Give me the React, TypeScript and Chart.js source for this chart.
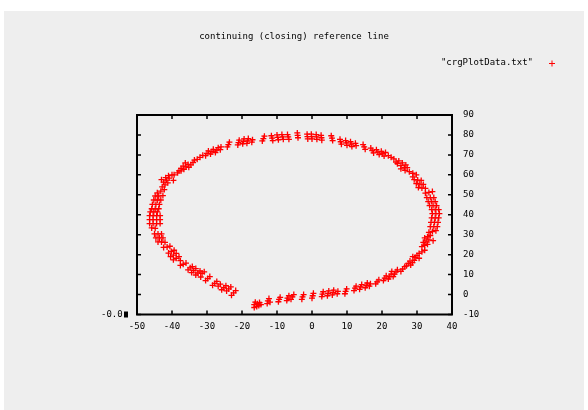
import { useEffect, useRef } from 'react';
import { Chart, registerables } from 'chart.js';

Chart.register(...registerables);

const titleText = 'continuing (closing) reference line';
const legendLabel = '"crgPlotData.txt"';
const cornerLabel = '-0.0';
const xMin = -50;
const xMax = 40;
const yMin = -10;
const yMax = 90;
const tickStep = 10;

const bottomArc: [number, number][] = [
  [-16.5, -6.5], [-16.5, -5], [-16.2, -3.8], [-15.8, -6], [-15.6, -4.6], [-15.2, -5.5], [-15, -4], [-14.6, -5],
  [-12.8, -4.5], [-12.6, -3.2], [-12.3, -2], [-12, -3.8],
  [-9.6, -3.6], [-9.4, -2.4], [-9.1, -1.4],
  [-7.2, -3], [-7, -1.8], [-6.6, -0.6], [-6, -2.4], [-5.6, -1.2], [-5.2, 0],
  [-2.9, -2.4], [-2.7, -1.2], [-2.4, 0],
  [0, -1.8], [0.2, -0.6], [0.4, 0.6],
  [2.8, -1], [3, 0.2], [3.2, 1.4], [4.4, -0.6], [4.6, 0.6], [4.8, 1.8], [5.8, -0.2], [6, 1], [6.2, 2.2], [7.2, 0.4], [7.4, 1.6],
  [9.4, 0.4], [9.6, 1.6], [9.9, 2.8],
  [12, 2], [12.3, 3.2], [12.6, 4.2], [13.6, 2.6], [13.9, 3.8], [14.2, 5], [15.2, 3.4], [15.5, 4.6], [15.8, 5.8], [16.4, 4.2], [16.7, 5.4],
  [18.2, 5.4], [18.6, 6.4], [19.1, 7.4],
  [20.4, 7], [20.8, 8.2], [21.2, 9.4], [21.8, 7.8], [22.2, 9], [22.6, 10.2], [23.2, 9], [23.6, 10.2], [24, 11.4], [22.8, 11.6], [24.4, 12.4],
  [25.4, 11.6], [25.9, 12.8], [26.5, 14],
];

const rightArc: [number, number][] = [
  [27, 14.4], [27.5, 15.6], [28, 16.8], [28.2, 14.8], [28.7, 16], [29.2, 17.2], [29.5, 18.6], [30, 19.6], [30.6, 18.2], [28.8, 19],
  [30.6, 20.6], [31.4, 21.4], [32.2, 22.2],
  [31.4, 24], [32.2, 24.6], [33, 25.2], [31.8, 26.2], [32.6, 26.8], [33.4, 27.4], [32.2, 28.4], [33, 29], [33.8, 29.6], [34.6, 27],
  [33.4, 31.2], [34.4, 31.6], [35.4, 32],
  [33.8, 34], [34.8, 34], [35.8, 34], [34, 36.2], [35, 36.2], [36, 36.2], [34.2, 38.4], [35.2, 38.4], [36.2, 38.4],
  [34.4, 40.6], [35.4, 40.6], [36.4, 40.6], [34.2, 42.6], [35.2, 42.6], [36.2, 42.6],
  [33.6, 44.6], [34.6, 44.6], [35.6, 44.6], [33.2, 46.6], [34.2, 46.6], [35.2, 46.6], [32.8, 48.6], [33.8, 48.6], [34.8, 48.6],
  [32.4, 50.8], [33.4, 51.2], [34.4, 51.6],
  [30.4, 53.6], [31.4, 53.4], [32.4, 53.2], [29.8, 55.6], [30.8, 55.4], [31.8, 55.2], [29.2, 57.6], [30.2, 57.4], [31.2, 57.2], [28.8, 59],
  [27.8, 61.6], [28.8, 60.8], [29.8, 60],
  [24.4, 65.6], [25.4, 64.6], [26.4, 63.6], [24.8, 67], [25.8, 66], [26.8, 65], [25.4, 63], [26.6, 62.2], [24, 66.4], [27.2, 63.6],
  [21.8, 69.6], [22.6, 68.8], [23.4, 68],
];

const topArc: [number, number][] = [
  [16.8, 73.4], [17.2, 72.2], [17.6, 71], [18.4, 72.6], [18.8, 71.4], [19.2, 70.2], [19.8, 71.8], [20.2, 70.6], [20.6, 69.4], [21, 71.2],
  [14.6, 75.2], [14.9, 74], [15.2, 72.8],
  [8, 77.8], [8.2, 76.6], [8.4, 75.4], [9.6, 77.2], [9.8, 76], [10, 74.8], [11, 76.6], [11.2, 75.4], [11.4, 74.2], [12.4, 75.8], [12.6, 74.6],
  [5.5, 79.6], [5.7, 78.4], [5.9, 77.2],
  [-1.4, 80.4], [-1.3, 79.2], [-1.2, 78], [-0.2, 80.4], [-0.1, 79.2], [0, 78], [1.2, 80.2], [1.3, 79], [1.4, 77.8], [2.6, 79.8], [2.7, 78.6], [2.8, 77.4],
  [-4.2, 81], [-4.1, 79.8], [-4, 78.6],
  [-11.6, 79.6], [-11.4, 78.4], [-11.2, 77.2], [-10, 80], [-9.8, 78.8], [-9.6, 77.6], [-8.6, 80.2], [-8.4, 79], [-8.2, 77.8], [-7, 80.2], [-6.8, 79], [-6.6, 77.8],
  [-14.2, 77], [-13.9, 78.2], [-13.6, 79.4],
  [-21.2, 75], [-21, 76.2], [-20.8, 77.4], [-19.8, 75.6], [-19.6, 76.8], [-19.4, 78], [-18.6, 75.8], [-18.4, 77], [-18.2, 78.2], [-17.2, 76.4], [-17, 77.6],
  [-24.2, 74], [-23.9, 75.2], [-23.6, 76.4],
];

const leftArc: [number, number][] = [
  [-30.4, 69.6], [-30, 70.8], [-29.6, 72], [-29, 70.4], [-28.6, 71.6], [-28.2, 72.8], [-27.6, 71.2], [-27.2, 72.4], [-26.8, 73.6], [-26.2, 72.6], [-26, 74],
  [-32.8, 67.8], [-32, 68.8], [-31.2, 69.8],
  [-38, 62], [-37.4, 63.2], [-36.8, 64.4], [-36.6, 62.8], [-36, 64], [-35.4, 65.2], [-35.2, 63.8], [-34.6, 65], [-34, 66.2], [-33.6, 67.4], [-36.2, 66],
  [-39.4, 60], [-38.4, 61], [-37.4, 62],
  [-42.8, 54], [-42, 55], [-41.2, 56], [-42.4, 56.4], [-41.6, 57.4], [-40.8, 58.4], [-41.8, 58.6], [-41, 59.6], [-40, 60], [-39.6, 57.2], [-43, 57.6],
  [-44.2, 51], [-43.2, 51.8], [-42.2, 52.6],
  [-45.8, 43], [-44.8, 43], [-43.8, 43], [-45.6, 45.2], [-44.6, 45.2], [-43.6, 45.2], [-45.2, 47.4], [-44.2, 47.4], [-43.2, 47.4], [-44.8, 49.4], [-43.8, 49.4], [-42.6, 49.6],
  [-46.4, 35.6], [-45.4, 35.6], [-44.4, 35.6], [-43.4, 35.6], [-46.4, 37.6], [-45.4, 37.6], [-44.4, 37.6], [-43.4, 37.6],
  [-46.4, 39.6], [-45.4, 39.6], [-44.4, 39.6], [-43.4, 39.6], [-46.2, 41.4], [-45.2, 41.4], [-44.2, 41.4],
  [-45.8, 33.4], [-44.8, 33.2],
  [-45, 30.4], [-44, 30.4], [-43, 30.4], [-44.6, 28.4], [-43.6, 28.4], [-42.6, 28.4], [-44, 26.4], [-43, 26.4], [-42, 26.2],
  [-42.4, 23.6], [-41.4, 23.8], [-40.6, 24.2],
  [-41, 20.8], [-40.2, 21.6], [-39.4, 22.2], [-40.4, 19], [-39.6, 19.8], [-38.8, 20.6], [-39.6, 17.4], [-38.8, 18.2], [-38, 19], [-37.6, 17],
  [-37.6, 14.6], [-36.8, 15.2], [-36, 15.8],
  [-35.4, 12.4], [-34.8, 13.4], [-34.2, 14], [-34.4, 11], [-33.8, 12], [-33.2, 13], [-33.2, 9.8], [-32.6, 10.8], [-32, 11.8], [-31.4, 10.6], [-30.8, 11.4], [-31.8, 8.8],
  [-30.4, 7], [-29.8, 8], [-29.2, 9],
  [-28.4, 4.6], [-27.8, 5.6], [-27.2, 6.6], [-26.8, 4.2], [-26.2, 5.2],
  [-25.8, 2.4], [-25.2, 3.4], [-24.6, 4.4], [-24.4, 1.8], [-23.8, 2.8], [-23.2, 3.8],
  [-23, -0.4], [-22.4, 0.8], [-21.8, 2],
];

const FONT_FAMILY = '"DejaVu Sans Mono", "Liberation Mono", monospace';
const W = 588;
const H = 410;

export default function App() {
  const ref = useRef<HTMLCanvasElement>(null);

  useEffect(() => {
    const canvas = ref.current;
    if (!canvas) return;
    const points = [...bottomArc, ...rightArc, ...topArc, ...leftArc].map(([x, y]) => ({ x, y }));

    const framePlugin = {
      id: 'gnuFrame',
      beforeDraw(chart: any) {
        const ctx = chart.ctx;
        ctx.save();
        ctx.fillStyle = '#ffffff';
        ctx.fillRect(0, 0, W, H);
        ctx.fillStyle = '#eeeeee';
        ctx.fillRect(4, 11, 580, 399);
        ctx.restore();
      },
      afterDraw(chart: any) {
        const { ctx, chartArea: a, scales } = chart;
        ctx.save();
        ctx.strokeStyle = '#000';
        ctx.lineWidth = 1.5;
        const tl = 4;
        for (let v = xMin; v <= xMax; v += tickStep) {
          const px = scales.x.getPixelForValue(v);
          ctx.beginPath();
          ctx.moveTo(px, a.bottom);
          ctx.lineTo(px, a.bottom - tl);
          ctx.moveTo(px, a.top);
          ctx.lineTo(px, a.top + tl);
          ctx.stroke();
        }
        for (let v = yMin; v <= yMax; v += tickStep) {
          const py = scales.y.getPixelForValue(v);
          ctx.beginPath();
          ctx.moveTo(a.left, py);
          ctx.lineTo(a.left + tl, py);
          ctx.moveTo(a.right, py);
          ctx.lineTo(a.right - tl, py);
          ctx.stroke();
        }
        ctx.lineWidth = 2;
        ctx.strokeRect(a.left, a.top, a.right - a.left, a.bottom - a.top);

        ctx.fillStyle = '#000';
        ctx.font = `9px ${FONT_FAMILY}`;
        ctx.textBaseline = 'middle';
        ctx.textAlign = 'center';
        ctx.fillText(titleText, 294, 37);
        ctx.textAlign = 'right';
        ctx.fillText(legendLabel, 533, 63);
        ctx.textAlign = 'left';
        ctx.fillText(cornerLabel, 101, a.bottom);
        ctx.fillRect(124, a.bottom - 3, 4, 6);

        ctx.strokeStyle = '#ff0000';
        ctx.lineWidth = 1;
        ctx.beginPath();
        ctx.moveTo(549, 63.5);
        ctx.lineTo(555, 63.5);
        ctx.moveTo(552, 60.5);
        ctx.lineTo(552, 66.5);
        ctx.stroke();
        ctx.restore();
      },
    };

    const tickFont = { family: FONT_FAMILY, size: 9 };

    const chart = new Chart(canvas, {
      type: 'scatter',
      data: {
        datasets: [
          {
            label: legendLabel,
            data: points,
            pointStyle: 'cross',
            pointRadius: 3,
            pointHoverRadius: 3,
            borderWidth: 1.3,
            borderColor: '#ff0000',
            backgroundColor: '#ff0000',
            showLine: false,
          },
        ],
      },
      options: {
        responsive: false,
        animation: false,
        events: [],
        layout: { padding: { left: 137, top: 115, right: 0, bottom: 0 } },
        plugins: {
          legend: { display: false },
          title: { display: false },
          tooltip: { enabled: false },
        },
        scales: {
          x: {
            type: 'linear',
            position: 'bottom',
            min: xMin,
            max: xMax,
            grid: { display: false, drawTicks: false },
            border: { display: false },
            ticks: {
              stepSize: tickStep,
              color: '#000',
              font: tickFont,
              padding: 7,
              maxRotation: 0,
              autoSkip: false,
            },
            afterFit(scale: any) {
              scale.height = H - 314.5;
            },
          },
          y: {
            type: 'linear',
            position: 'right',
            min: yMin,
            max: yMax,
            grid: { display: false, drawTicks: false },
            border: { display: false },
            ticks: {
              stepSize: tickStep,
              color: '#000',
              font: tickFont,
              padding: 11,
              autoSkip: false,
            },
            afterFit(scale: any) {
              scale.width = W - 452;
            },
          },
        },
      },
      plugins: [framePlugin],
    } as any);

    return () => chart.destroy();
  }, []);

  return (
    <div style={{ position: 'fixed', left: 0, top: 0, width: W, height: H, background: '#fff' }}>
      <canvas ref={ref} width={W} height={H} style={{ display: 'block', width: W, height: H }} />
    </div>
  );
}
